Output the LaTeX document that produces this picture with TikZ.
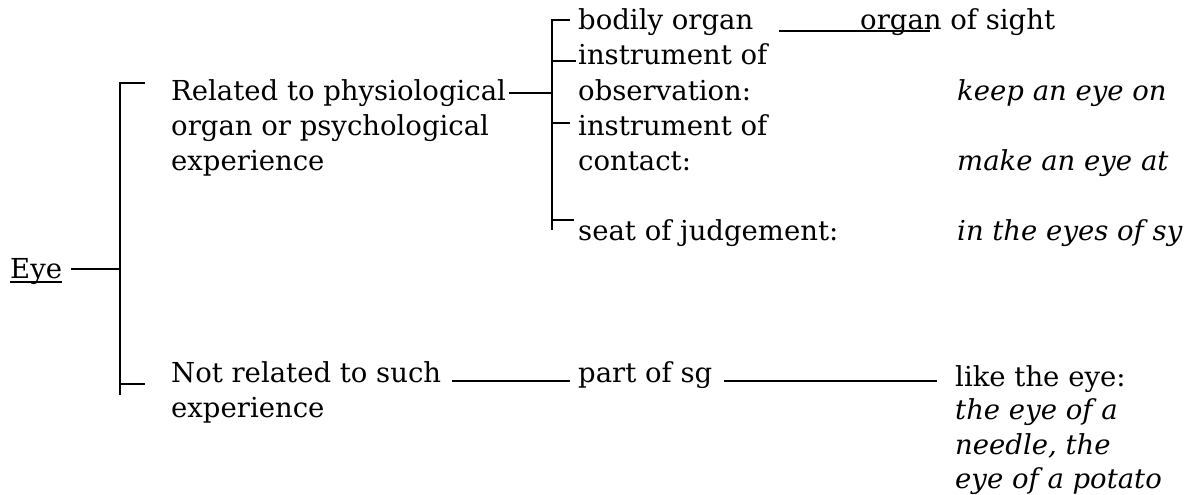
\documentclass[tikz,border=0pt]{standalone}
\usepackage{fontspec}
\setmainfont{DejaVu Serif}
\usetikzlibrary{calc}
\begin{document}
\begin{tikzpicture}[x=1pt,y=-1pt,
  lbl/.style={anchor=base west, inner sep=0pt, font=\fontsize{27.5}{35}\selectfont},
  ilbl/.style={lbl, font=\fontsize{27.5}{35}\selectfont\itshape},
  conn/.style={line width=2pt, line cap=butt}]
\useasboundingbox (0,0) rectangle (1189,495);

% root
\node[lbl] (eye) at (10,278) {Eye};
\draw[line width=1.6pt] ($(eye.base west)+(0,4)$) -- ($(eye.base east)+(0,4)$);

% main bracket
\coordinate (mtop) at (120,83);
\coordinate (mbot) at (120,395);
\coordinate (mjoin) at (120,269);
\coordinate (mlow) at (120,384);
\draw[conn] ($(mtop)+(25,0)$) -- (mtop) -- (mbot);
\draw[conn] (mlow) -- ++(25,0);
\draw[conn] ($(eye.base east)+(9,-9)$) -- (mjoin);

% first branch
\node[lbl] (rel1) at (171,100) {Related to physiological};
\node[lbl] (rel2) at (171,135) {organ or psychological};
\node[lbl] (rel3) at (171,170) {experience};

% second bracket
\coordinate (stop) at (552,19);
\coordinate (sbot) at (552,230);
\coordinate (sjoin) at (552,93);
\draw[conn] (stop) -- (sbot);
\draw[conn] ($(rel1.base east)+(3,-7)$) -- (sjoin);

\node[lbl] (bod) at (578,30) {bodily organ};
\node[lbl] (obs1) at (578,65) {instrument of};
\node[lbl] (obs2) at (578,100) {observation:};
\node[lbl] (con1) at (578,135) {instrument of};
\node[lbl] (con2) at (578,170) {contact:};
\node[lbl] (seat) at (578,240) {seat of judgement:};

\draw[conn] (552,20) -- (570,20);
\draw[conn] (552,61) -- (576,61);
\draw[conn] (552,123) -- (570,123);
\draw[conn] (552,220) -- (574,220);

\node[lbl] (sight) at (860,30) {organ of sight};
\draw[conn] ($(bod.base east)+(26,1)$) -- ($(sight.base west)+(70,1)$);

\node[ilbl] (keep) at (957,100) {keep an eye on};
\node[ilbl] (make) at (957,170) {make an eye at};
\node[ilbl] (judg) at (957,240) {in the eyes of sy};

% second branch
\node[lbl] (not1) at (171,382) {Not related to such};
\node[lbl] (not2) at (171,417) {experience};
\node[lbl] (part) at (578,382) {part of sg};
\draw[conn] ($(not1.base east)+(11,-1)$) -- ($(part.base west)+(-8,-1)$);

\node[lbl] (like) at (955,386) {like the eye:};
\node[ilbl] (ex1) at (955,419) {the eye of a};
\node[ilbl] (ex2) at (955,454) {needle, the};
\node[ilbl] (ex3) at (955,488) {eye of a potato};
\draw[conn] ($(part.base east)+(11,-1)$) -- ($(like.base west)+(-18,-5)$);
\end{tikzpicture}
\end{document}
